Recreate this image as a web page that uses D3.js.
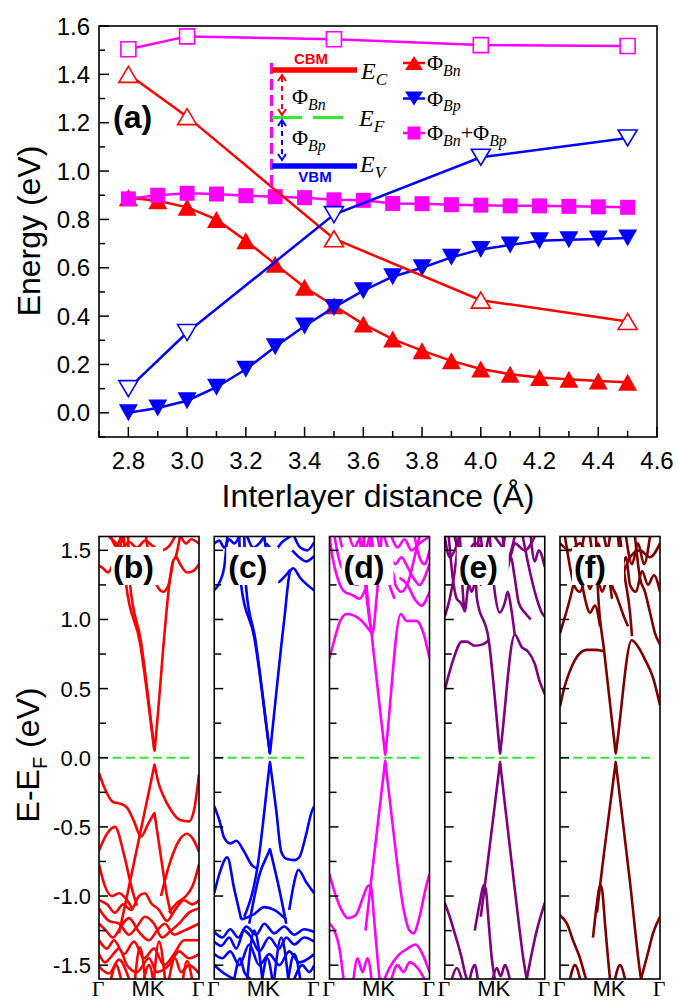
<!DOCTYPE html>
<html><head><meta charset="utf-8">
<script src="https://cdn.jsdelivr.net/npm/d3@7"></script>
<style>
body{margin:0;background:#fff;}
svg{display:block;font-family:"Liberation Sans",Arial,sans-serif;}
</style></head><body>
<svg id="fig" width="678" height="1003"></svg>
<script>
// ---------- (a) Schottky barrier heights vs interlayer distance ----------
const distFine   = [2.8,2.9,3.0,3.1,3.2,3.3,3.4,3.5,3.6,3.7,3.8,3.9,4.0,4.1,4.2,4.3,4.4,4.5];
const phiBnFine  = [0.89,0.877,0.85,0.80,0.712,0.615,0.519,0.443,0.367,0.305,0.257,0.215,0.181,0.16,0.146,0.139,0.132,0.126];
const phiBpFine  = [0.0,0.02,0.05,0.106,0.18,0.273,0.359,0.436,0.505,0.563,0.60,0.643,0.676,0.694,0.712,0.716,0.719,0.723];
const phiSumFine = [0.885,0.90,0.908,0.905,0.898,0.894,0.89,0.881,0.879,0.866,0.865,0.861,0.859,0.856,0.856,0.854,0.852,0.85];
const distCoarse   = [2.8,3.0,3.5,4.0,4.5];
const phiBnCoarse  = [1.40,1.225,0.72,0.466,0.378];
const phiBpCoarse  = [0.10,0.332,0.82,1.057,1.137];
const phiSumCoarse = [1.504,1.557,1.545,1.521,1.517];
const xTicksA = [2.8,3.0,3.2,3.4,3.6,3.8,4.0,4.2,4.4,4.6];
const yTicksA = [0,0.2,0.4,0.6,0.8,1.0,1.2,1.4,1.6];

// ---------- (b)-(f) band structures, k in [0,1] along Γ-M-K-Γ ----------
const panelIds = ["b","c","d","e","f"];
const panelColors = ["#ff0000","#0000ff","#ff00ff","#800080","#800000"];
const kLabels = ["Γ","MK","Γ"];
const yTicksBand = [-1.5,-1.25,-1,-0.75,-0.5,-0.25,0,0.25,0.5,0.75,1,1.25,1.5];

const bandsB = [
 [[0.25,1.6],[0.27,1.26],[0.41,0.83],[0.545,0.104],[0.555,0.05],[0.565,0.124],[0.74,1.42],[0.77,1.46],[0.81,1.6]],
 [[0.29,1.6],[0.31,1.26],[0.42,0.84],[0.545,0.108],[0.555,0.05]],
 [[0.47,1.6],[0.5,1.45],[0.56,1.28],[0.64,1.2],[0.69,1.24],[0.74,1.42]],
 [[0,1.39],[0.04,1.37],[0.09,1.34],[0.15,1.42],[0.2,1.5],[0.24,1.6]],
 [[0.77,1.46],[0.82,1.39],[0.88,1.34],[0.94,1.35],[1,1.4]],
 [[0.1,1.6],[0.16,1.56],[0.23,1.52],[0.3,1.56],[0.38,1.52],[0.46,1.57],[0.54,1.53],[0.62,1.5],[0.7,1.53],[0.76,1.6]],
 [[0.12,1.6],[0.17,1.53],[0.22,1.6]],
 [[0.82,1.6],[0.87,1.55],[0.92,1.58],[1,1.55]],
 [[0.2,-1.27],[0.28,-1.0],[0.545,-0.085],[0.555,-0.05],[0.565,-0.084],[0.59,-0.17],[0.64,-0.27],[0.72,-0.38],[0.81,-0.45],[0.9,-0.46],[0.95,-0.38],[1,-0.12]],
 [[0,-0.11],[0.05,-0.21],[0.14,-0.32],[0.2,-0.33],[0.28,-0.36],[0.35,-0.46],[0.42,-0.57],[0.49,-0.48],[0.545,-0.41],[0.555,-0.40],[0.565,-0.45],[0.62,-0.72],[0.68,-1.0],[0.72,-1.13]],
 [[0,-0.67],[0.08,-0.55],[0.16,-0.5],[0.25,-0.7],[0.33,-0.95],[0.38,-1.07]],
 [[0.62,-1.0],[0.7,-0.78],[0.8,-0.6],[0.88,-0.55],[0.95,-0.6],[1,-0.68]],
 [[0,-0.77],[0.06,-0.93],[0.13,-1.0],[0.2,-0.98],[0.27,-1.02],[0.34,-1.1]],
 [[0.7,-1.12],[0.78,-1.05],[0.87,-1.0],[0.94,-0.92],[1,-0.77]],
 [[0,-1.03],[0.08,-1.06],[0.16,-1.12],[0.24,-1.06],[0.32,-1.1],[0.4,-1.0],[0.46,-0.98],[0.52,-1.05],[0.6,-1.1],[0.68,-1.18],[0.76,-1.1],[0.85,-1.03],[0.93,-1.06],[1,-1.03]],
 [[0,-1.09],[0.1,-1.18],[0.2,-1.2],[0.3,-1.28],[0.38,-1.22],[0.46,-1.15],[0.55,-1.2],[0.63,-1.3],[0.72,-1.25],[0.8,-1.2],[0.9,-1.12],[1,-1.09]],
 [[0,-1.2],[0.07,-1.25],[0.14,-1.3],[0.22,-1.22],[0.3,-1.16],[0.4,-1.26],[0.5,-1.32],[0.58,-1.25],[0.66,-1.2],[0.75,-1.28],[0.85,-1.25],[1,-1.2]],
 [[0,-1.32],[0.08,-1.38],[0.15,-1.32],[0.25,-1.42],[0.35,-1.33],[0.45,-1.45],[0.55,-1.38],[0.65,-1.5],[0.75,-1.42],[0.85,-1.32],[1,-1.32]],
 [[0,-1.42],[0.06,-1.48],[0.12,-1.44],[0.2,-1.38],[0.28,-1.5],[0.38,-1.55],[0.5,-1.45],[0.58,-1.55],[0.7,-1.5],[0.8,-1.4],[0.9,-1.45],[1,-1.42]],
 [[0,-1.51],[0.1,-1.56],[0.2,-1.46],[0.3,-1.6]],
 [[0.36,-1.6],[0.41,-1.37],[0.46,-1.6]],
 [[0.55,-1.6],[0.6,-1.33],[0.66,-1.6]],
 [[0.7,-1.6],[0.76,-1.45],[0.82,-1.55],[0.9,-1.5],[1,-1.56]],
 [[0.45,-1.6],[0.5,-1.5],[0.54,-1.6]],
 [[0.12,-1.6],[0.17,-1.5],[0.22,-1.6]],
 [[0.84,-1.6],[0.88,-1.47],[0.93,-1.6]]
];

const bandsC = [
 [[0.25,1.6],[0.27,1.24],[0.4,0.87],[0.547,0.083],[0.557,0.03],[0.567,0.098],[0.7,1.0],[0.76,1.35],[0.79,1.37],[0.86,1.3],[0.93,1.25],[1,1.21]],
 [[0.3,1.6],[0.32,1.22],[0.41,0.86],[0.547,0.086],[0.557,0.03]],
 [[0,1.21],[0.06,1.28],[0.1,1.38],[0.13,1.6]],
 [[0,1.55],[0.05,1.57],[0.1,1.52],[0.15,1.58],[0.2,1.55],[0.25,1.6]],
 [[0.5,1.6],[0.53,1.45],[0.58,1.32],[0.64,1.27],[0.69,1.3],[0.76,1.36]],
 [[0.52,1.55],[0.6,1.5],[0.68,1.56],[0.76,1.6]],
 [[0.8,1.6],[0.86,1.52],[0.93,1.5],[1,1.56]],
 [[0.33,1.6],[0.39,1.52],[0.45,1.55],[0.5,1.6]],
 [[0.78,1.5],[0.85,1.45],[0.92,1.42],[1,1.46]],
 [[0.3,-1.15],[0.43,-0.8],[0.547,-0.09],[0.557,-0.03],[0.567,-0.086],[0.62,-0.38],[0.67,-0.68],[0.72,-0.73],[0.8,-0.74],[0.85,-0.72],[0.92,-0.55],[0.97,-0.4],[1,-0.35]],
 [[0,-0.35],[0.05,-0.45],[0.1,-0.58],[0.16,-0.62],[0.22,-0.6],[0.3,-0.68],[0.38,-0.78],[0.43,-0.8]],
 [[0.35,-1.2],[0.45,-0.85],[0.547,-0.678],[0.557,-0.66],[0.567,-0.69],[0.65,-0.95],[0.72,-1.2]],
 [[0,-0.98],[0.06,-0.82],[0.13,-0.72],[0.2,-0.95],[0.27,-1.17]],
 [[0.75,-1.1],[0.8,-0.9],[0.84,-0.81],[0.92,-0.9],[1,-0.98]],
 [[0.27,-1.17],[0.4,-1.13],[0.5,-1.08],[0.6,-1.1],[0.72,-1.17]],
 [[0,-1.26],[0.08,-1.3],[0.16,-1.24],[0.24,-1.3],[0.32,-1.22],[0.42,-1.28],[0.5,-1.2],[0.6,-1.27],[0.7,-1.22],[0.8,-1.28],[0.9,-1.24],[1,-1.26]],
 [[0,-1.33],[0.07,-1.36],[0.15,-1.3],[0.22,-1.38],[0.3,-1.25],[0.37,-1.3],[0.45,-1.4],[0.55,-1.3],[0.65,-1.38],[0.72,-1.3],[0.8,-1.35],[0.9,-1.3],[1,-1.33]],
 [[0,-1.42],[0.08,-1.45],[0.16,-1.4],[0.25,-1.5],[0.35,-1.35],[0.45,-1.5],[0.55,-1.42],[0.65,-1.5],[0.75,-1.4],[0.85,-1.48],[1,-1.42]],
 [[0,-1.5],[0.1,-1.56],[0.2,-1.6]],
 [[0.33,-1.6],[0.4,-1.25],[0.48,-1.6]],
 [[0.6,-1.6],[0.67,-1.3],[0.74,-1.6]],
 [[0.8,-1.6],[0.88,-1.5],[0.95,-1.55],[1,-1.5]],
 [[0.2,-1.6],[0.26,-1.45],[0.3,-1.55],[0.36,-1.6]],
 [[0.48,-1.6],[0.53,-1.45],[0.58,-1.6]],
 [[0.74,-1.6],[0.8,-1.42],[0.86,-1.6]]
];

const bandsD = [
 [[0.34,1.6],[0.37,1.25],[0.42,0.9],[0.547,0.084],[0.557,0.02],[0.567,0.085],[0.713,1.04],[0.77,0.99],[0.87,0.99],[0.94,0.9],[1,0.72]],
 [[0,0.72],[0.04,0.83],[0.107,0.99],[0.173,1.04],[0.307,1.0],[0.423,0.9]],
 [[0.3,1.6],[0.35,1.3],[0.41,0.95],[0.43,0.9],[0.47,1.15],[0.5,1.4],[0.52,1.6]],
 [[0,1.6],[0.03,1.45],[0.08,1.3],[0.15,1.2],[0.22,1.18],[0.3,1.15],[0.36,1.22]],
 [[0.1,1.6],[0.15,1.45],[0.2,1.32],[0.27,1.25],[0.33,1.3],[0.38,1.42],[0.42,1.6]],
 [[0.48,1.6],[0.52,1.45],[0.58,1.32],[0.63,1.35],[0.66,1.25],[0.72,1.2],[0.8,1.3],[0.85,1.45],[0.9,1.6]],
 [[0.7,1.3],[0.78,1.25],[0.85,1.15],[0.92,1.1],[1,1.2]],
 [[0.85,1.6],[0.9,1.45],[0.95,1.4],[1,1.5]],
 [[0.2,1.6],[0.25,1.52],[0.3,1.58],[0.35,1.5],[0.4,1.6]],
 [[0.05,1.6],[0.1,1.42],[0.16,1.33],[0.24,1.3],[0.3,1.38],[0.35,1.6]],
 [[0.55,1.6],[0.6,1.48],[0.66,1.4],[0.72,1.45],[0.78,1.38],[0.84,1.3],[0.9,1.25],[0.96,1.32],[1,1.4]],
 [[0.42,1.6],[0.46,1.45],[0.5,1.52],[0.55,1.4],[0.6,1.25],[0.65,1.15]],
 [[0.62,1.6],[0.68,1.52],[0.75,1.58],[0.82,1.5],[0.9,1.55],[1,1.6]],
 [[0.36,-1.25],[0.41,-0.93],[0.547,-0.082],[0.557,-0.02],[0.567,-0.082],[0.65,-0.6],[0.73,-1.05],[0.8,-1.25],[0.84,-1.27],[0.9,-1.15],[0.96,-0.95],[1,-0.84]],
 [[0,-0.84],[0.05,-0.97],[0.12,-1.1],[0.18,-1.16],[0.26,-1.14],[0.33,-1.02],[0.38,-0.93],[0.41,-0.92],[0.45,-1.2],[0.48,-1.45],[0.5,-1.6]],
 [[0,-1.2],[0.05,-1.25],[0.1,-1.38],[0.14,-1.6]],
 [[0.24,-1.6],[0.28,-1.45],[0.33,-1.55],[0.38,-1.45],[0.42,-1.6]],
 [[0.55,-1.6],[0.6,-1.52],[0.7,-1.42],[0.78,-1.38],[0.86,-1.35],[0.93,-1.42],[1,-1.55]],
 [[0.62,-1.6],[0.68,-1.5],[0.74,-1.55],[0.8,-1.48],[0.88,-1.52],[0.95,-1.6]]
];

const bandsE = [
 [[0.3,1.6],[0.32,1.16],[0.44,0.85],[0.543,0.103],[0.553,0.03],[0.563,0.089],[0.70,0.89],[0.77,0.8],[0.83,0.77],[0.9,0.68],[0.95,0.55],[1,0.46]],
 [[0,0.49],[0.04,0.6],[0.09,0.72],[0.17,0.84],[0.22,0.84],[0.3,0.81],[0.38,0.82],[0.44,0.85]],
 [[0,1.02],[0.05,1.15],[0.1,1.35],[0.14,1.6]],
 [[0.1,1.6],[0.17,1.3],[0.2,1.06],[0.24,1.25],[0.27,1.2],[0.3,1.28],[0.34,1.6]],
 [[0.45,1.6],[0.5,1.2],[0.55,1.05],[0.6,1.12],[0.63,1.2],[0.66,1.1],[0.7,0.89]],
 [[0.78,1.6],[0.85,1.35],[0.92,1.15],[0.97,1.05],[1,1.02]],
 [[0.1,1.6],[0.2,1.45],[0.3,1.55],[0.45,1.45],[0.55,1.35],[0.62,1.4],[0.7,1.6]],
 [[0.5,1.6],[0.6,1.5],[0.65,1.45],[0.7,1.55],[0.8,1.5],[0.9,1.6]],
 [[0,1.6],[0.05,1.45],[0.1,1.5],[0.15,1.6]],
 [[0.15,1.6],[0.19,1.35],[0.23,1.5],[0.27,1.3],[0.31,1.45],[0.36,1.25],[0.4,1.45],[0.44,1.6]],
 [[0.58,1.6],[0.62,1.35],[0.66,1.45],[0.7,1.3],[0.74,1.12],[0.8,1.05],[0.86,1.0]],
 [[0.86,1.6],[0.9,1.42],[0.94,1.5],[1,1.38]],
 [[0.04,1.6],[0.08,1.3],[0.12,1.15],[0.16,1.12],[0.2,1.06]],
 [[0.36,1.6],[0.4,1.38],[0.44,1.3],[0.48,1.4],[0.52,1.28],[0.56,1.38],[0.6,1.6]],
 [[0.36,-1.15],[0.4,-0.93],[0.543,-0.089],[0.553,-0.03],[0.563,-0.093],[0.7,-0.95],[0.8,-1.52],[0.82,-1.6]],
 [[0,-1.05],[0.05,-1.15],[0.1,-1.27],[0.17,-1.45],[0.2,-1.55],[0.22,-1.6]],
 [[0.3,-1.25],[0.35,-1.05],[0.39,-0.92],[0.41,-0.95],[0.44,-1.2],[0.47,-1.45],[0.5,-1.6]],
 [[0.82,-1.6],[0.86,-1.45],[0.92,-1.25],[0.97,-1.12],[1,-1.05]],
 [[0.07,-1.6],[0.12,-1.52],[0.17,-1.6]],
 [[0.25,-1.6],[0.3,-1.5],[0.33,-1.6]],
 [[0.48,-1.6],[0.52,-1.52],[0.56,-1.58],[0.6,-1.5],[0.65,-1.6]]
];

const bandsF = [
 [[0.36,1.6],[0.38,1.2],[0.44,0.78],[0.547,0.094],[0.557,0.03],[0.567,0.081],[0.717,0.85],[0.8,0.78],[0.85,0.71],[0.93,0.58],[1,0.38]],
 [[0,0.37],[0.04,0.5],[0.08,0.59],[0.17,0.73],[0.27,0.78],[0.35,0.78],[0.44,0.77]],
 [[0,0.9],[0.05,1.02],[0.1,1.15],[0.15,1.3],[0.2,1.45],[0.24,1.6]],
 [[0.15,1.6],[0.2,1.35],[0.25,1.15],[0.3,1.05],[0.35,1.1],[0.4,0.95]],
 [[0.6,1.6],[0.65,1.3],[0.7,1.05],[0.72,0.88]],
 [[0.75,1.6],[0.8,1.3],[0.85,1.2],[0.9,1.05],[0.95,0.9],[1,0.82]],
 [[0,1.55],[0.1,1.5],[0.2,1.55],[0.3,1.45],[0.4,1.5],[0.5,1.35],[0.55,1.4],[0.6,1.3],[0.7,1.45],[0.8,1.5],[0.9,1.45],[1,1.55]],
 [[0.05,1.6],[0.1,1.38],[0.14,1.25],[0.2,1.2],[0.26,1.3],[0.3,1.22],[0.36,1.35],[0.42,1.2],[0.48,1.3],[0.52,1.15]],
 [[0.58,1.6],[0.62,1.4],[0.66,1.45],[0.7,1.25],[0.76,1.2],[0.82,1.35],[0.88,1.25],[0.94,1.32],[1,1.2]],
 [[0.3,1.6],[0.34,1.45],[0.38,1.55],[0.44,1.42],[0.5,1.6]],
 [[0.44,1.6],[0.48,1.45],[0.52,1.25],[0.56,1.18],[0.6,1.1],[0.64,1.02],[0.68,0.95]],
 [[0.66,1.6],[0.72,1.4],[0.78,1.55],[0.84,1.4],[0.9,1.6]],
 [[0.37,-1.12],[0.4,-0.93],[0.547,-0.087],[0.557,-0.03],[0.567,-0.091],[0.7,-0.9],[0.8,-1.55],[0.81,-1.6]],
 [[0,-1.14],[0.07,-1.2],[0.13,-1.32],[0.2,-1.45],[0.24,-1.55],[0.26,-1.6]],
 [[0.33,-1.3],[0.37,-1.05],[0.4,-0.92],[0.42,-0.95],[0.45,-1.2],[0.48,-1.45],[0.5,-1.6]],
 [[0.81,-1.6],[0.88,-1.41],[0.93,-1.27],[1,-1.15]],
 [[0.1,-1.6],[0.15,-1.5],[0.2,-1.6]],
 [[0.55,-1.6],[0.6,-1.5],[0.65,-1.6]]
];

const bandSets = [bandsB, bandsC, bandsD, bandsE, bandsF];

// ================= drawing =================
const svg = d3.select("#fig");
const serif = '"Liberation Serif","DejaVu Serif",serif';

// ---------- panel (a) ----------
const ax = {l:99, r:657, t:26, b:437};
const x = d3.scaleLinear().domain([2.7,4.6]).range([ax.l, ax.r]);
const y = d3.scaleLinear().domain([-0.1,1.6]).range([ax.b, ax.t]);
const gA = svg.append("g");

// inward ticks
const xMinor = d3.range(2.7, 4.61, 0.1).map(v => +v.toFixed(1)).filter(v => !xTicksA.includes(v));
const yMinor = d3.range(-0.1, 1.61, 0.1).map(v => +v.toFixed(1)).filter(v => !yTicksA.includes(v));
gA.append("g").selectAll("line").data(xTicksA).join("line")
  .attr("x1", d => x(d)).attr("x2", d => x(d)).attr("y1", ax.b).attr("y2", ax.b - 10)
  .attr("stroke", "#000").attr("stroke-width", 1.5);
gA.append("g").selectAll("line").data(xMinor).join("line")
  .attr("x1", d => x(d)).attr("x2", d => x(d)).attr("y1", ax.b).attr("y2", ax.b - 6)
  .attr("stroke", "#000").attr("stroke-width", 1.5);
gA.append("g").selectAll("line").data(yTicksA).join("line")
  .attr("x1", ax.l).attr("x2", ax.l + 10).attr("y1", d => y(d)).attr("y2", d => y(d))
  .attr("stroke", "#000").attr("stroke-width", 1.5);
gA.append("g").selectAll("line").data(yMinor).join("line")
  .attr("x1", ax.l).attr("x2", ax.l + 6).attr("y1", d => y(d)).attr("y2", d => y(d))
  .attr("stroke", "#000").attr("stroke-width", 1.5);

gA.append("g").selectAll("text").data(xTicksA).join("text")
  .attr("x", d => x(d)).attr("y", 469).attr("text-anchor", "middle")
  .attr("font-size", 24).text(d => d.toFixed(1));
gA.append("g").selectAll("text").data(yTicksA).join("text")
  .attr("x", 90).attr("y", d => y(d)).attr("dy", "0.36em").attr("text-anchor", "end")
  .attr("font-size", 24).text(d => d.toFixed(1));

gA.append("text").attr("x", 378).attr("y", 507).attr("text-anchor", "middle")
  .attr("font-size", 32).text("Interlayer distance (Å)");
gA.append("text").attr("transform", "translate(40,231) rotate(-90)").attr("text-anchor", "middle")
  .attr("font-size", 32).text("Energy (eV)");

// marker shapes
const triUp = (w, h) => `M0,${-h/2}L${w/2},${h/2}L${-w/2},${h/2}Z`;
const triDown = (w, h) => `M0,${h/2}L${w/2},${-h/2}L${-w/2},${-h/2}Z`;
const square = s => `M${-s/2},${-s/2}h${s}v${s}h${-s}Z`;

const line = d3.line().x(d => x(d[0])).y(d => y(d[1]));
function series(xs, ys, color, shape, filled) {
  const pts = xs.map((v, i) => [v, ys[i]]);
  const g = gA.append("g");
  g.append("path").attr("d", line(pts)).attr("fill", "none").attr("stroke", color).attr("stroke-width", 2.5);
  g.selectAll("path.m").data(pts).join("path").attr("class", "m")
    .attr("transform", d => `translate(${x(d[0])},${y(d[1])})`)
    .attr("d", shape)
    .attr("fill", filled ? color : "#fff")
    .attr("stroke", color).attr("stroke-width", filled ? 0 : 1.6);
}
series(distFine, phiBnFine, "#ff0000", triUp(19, 17), true);
series(distFine, phiBpFine, "#0000ff", triDown(19, 17), true);
series(distFine, phiSumFine, "#ff00ff", square(15), true);
series(distCoarse, phiBnCoarse, "#ff0000", triUp(19, 16), false);
series(distCoarse, phiBpCoarse, "#0000ff", triDown(19, 16), false);
series(distCoarse, phiSumCoarse, "#ff00ff", square(15), false);

gA.append("rect").attr("x", ax.l).attr("y", ax.t).attr("width", ax.r - ax.l).attr("height", ax.b - ax.t)
  .attr("fill", "none").attr("stroke", "#000").attr("stroke-width", 1.6);

gA.append("text").attr("x", 113).attr("y", 128).attr("font-size", 32).attr("font-weight", "bold").text("(a)");

// energy-level sketch
const sk = gA.append("g");
sk.append("line").attr("x1", 271.5).attr("x2", 271.5).attr("y1", 63).attr("y2", 192)
  .attr("stroke", "#ff00ff").attr("stroke-width", 3).attr("stroke-dasharray", "11,5");
sk.append("line").attr("x1", 272).attr("x2", 357).attr("y1", 70).attr("y2", 70)
  .attr("stroke", "#ff0000").attr("stroke-width", 5.5);
sk.append("line").attr("x1", 272).attr("x2", 357).attr("y1", 166).attr("y2", 166)
  .attr("stroke", "#0000ff").attr("stroke-width", 5.5);
sk.append("line").attr("x1", 272).attr("x2", 345).attr("y1", 117.5).attr("y2", 117.5)
  .attr("stroke", "#33e633").attr("stroke-width", 3).attr("stroke-dasharray", "30,11");
sk.append("text").attr("x", 311).attr("y", 64).attr("text-anchor", "middle").attr("font-size", 15)
  .attr("font-weight", "bold").attr("fill", "#ff0000").text("CBM");
sk.append("text").attr("x", 315).attr("y", 182).attr("text-anchor", "middle").attr("font-size", 15)
  .attr("font-weight", "bold").attr("fill", "#0000ff").text("VBM");
function arrow(x0, yTop, yBot, color) {
  sk.append("line").attr("x1", x0).attr("x2", x0).attr("y1", yTop + 2).attr("y2", yBot - 2)
    .attr("stroke", color).attr("stroke-width", 2).attr("stroke-dasharray", "5,4");
  sk.append("path").attr("d", `M${x0-4},${yTop+6}L${x0},${yTop}L${x0+4},${yTop+6}`)
    .attr("fill", "none").attr("stroke", color).attr("stroke-width", 2);
  sk.append("path").attr("d", `M${x0-4},${yBot-6}L${x0},${yBot}L${x0+4},${yBot-6}`)
    .attr("fill", "none").attr("stroke", color).attr("stroke-width", 2);
}
arrow(282, 75, 115, "#ff0000");
arrow(282, 120, 160, "#0000ff");

function phiLabel(g, x0, y0, parts, size) {
  const t = g.append("text").attr("x", x0).attr("y", y0).attr("font-family", serif).attr("font-size", size);
  parts.forEach(p => {
    const s = t.append("tspan").text(p.t);
    if (p.sub) s.attr("font-style", "italic").attr("font-size", size * 0.72).attr("dy", size * 0.25);
    if (p.up) s.attr("dy", -size * 0.25);
  });
}
phiLabel(sk, 292, 104, [{t:"Φ"},{t:"Bn", sub:true}], 22);
phiLabel(sk, 292, 145, [{t:"Φ"},{t:"Bp", sub:true}], 22);
phiLabel(sk, 361, 79, [{t:"E"},{t:"C", sub:true}], 24);
phiLabel(sk, 359, 126, [{t:"E"},{t:"F", sub:true}], 24);
phiLabel(sk, 360, 172, [{t:"E"},{t:"V", sub:true}], 24);
sk.selectAll("text").filter(function(){ return /^E/.test(this.textContent); }).attr("font-style", "italic");

// legend
const legendRows = [
  {shape: triUp(18, 14), color: "#ff0000", parts: [{t:"Φ"},{t:"Bn", sub:true}]},
  {shape: triDown(18, 14), color: "#0000ff", parts: [{t:"Φ"},{t:"Bp", sub:true}]},
  {shape: square(13), color: "#ff00ff", parts: [{t:"Φ"},{t:"Bn", sub:true},{t:"+Φ", up:true},{t:"Bp", sub:true}]}
];
const legendY = [63, 98.5, 133];
legendRows.forEach((r, i) => {
  const yy = legendY[i];
  gA.append("line").attr("x1", 403).attr("x2", 425).attr("y1", yy).attr("y2", yy)
    .attr("stroke", r.color).attr("stroke-width", 2.5);
  gA.append("path").attr("transform", `translate(414,${yy})`).attr("d", r.shape).attr("fill", r.color);
  phiLabel(gA, 427, yy + 7, r.parts, 22);
});

// ---------- panels (b)-(f) ----------
const px = d3.scaleBand().domain(panelIds).range([99, 660]).paddingInner(0.1323).paddingOuter(0);
const ey = d3.scaleLinear().domain([-1.6, 1.6]).range([979, 536.5]);
const bw = px.bandwidth();

panelIds.forEach((id, i) => {
  const x0 = px(id);
  const kx = d3.scaleLinear().domain([0, 1]).range([x0, x0 + bw]);
  const g = svg.append("g");
  g.append("clipPath").attr("id", "clip-" + id).append("rect")
    .attr("x", x0).attr("y", ey(1.6)).attr("width", bw).attr("height", ey(-1.6) - ey(1.6));
  const bl = d3.line().x(d => kx(d[0])).y(d => ey(d[1])).curve(d3.curveMonotoneX);
  const gb = g.append("g").attr("clip-path", `url(#clip-${id})`);
  gb.selectAll("path").data(bandSets[i]).join("path")
    .attr("d", bl).attr("fill", "none").attr("stroke", panelColors[i])
    .attr("stroke-width", 2.6).attr("stroke-linejoin", "round");
  // Fermi level
  g.append("line").attr("x1", x0).attr("x2", x0 + bw - 8).attr("y1", ey(0)).attr("y2", ey(0))
    .attr("stroke", "#33e633").attr("stroke-width", 2.2).attr("stroke-dasharray", "9,4.5");
  // ticks on left edge
  g.append("g").selectAll("line").data(yTicksBand).join("line")
    .attr("x1", x0).attr("x2", d => x0 + (Math.abs(d * 2 - Math.round(d * 2)) < 1e-6 ? 9 : 7))
    .attr("y1", d => ey(d)).attr("y2", d => ey(d)).attr("stroke", "#000").attr("stroke-width", 1.5);
  // panel label on white box
  g.append("rect").attr("x", x0 + 12).attr("y", 547).attr("width", 52).attr("height", 38).attr("fill", "#fff");
  g.append("text").attr("x", x0 + 14).attr("y", 578).attr("font-size", 32).attr("font-weight", "bold")
    .text(`(${id})`);
  g.append("rect").attr("x", x0).attr("y", ey(1.6)).attr("width", bw).attr("height", ey(-1.6) - ey(1.6))
    .attr("fill", "none").attr("stroke", "#000").attr("stroke-width", 1.6);
  // k-point labels
  g.append("text").attr("x", x0 - 1).attr("y", 996).attr("text-anchor", "middle")
    .attr("font-family", serif).attr("font-size", 22).text(kLabels[0]);
  g.append("text").attr("x", x0 + bw * 0.49).attr("y", 996).attr("text-anchor", "middle")
    .attr("font-size", 22).text(kLabels[1]);
  g.append("text").attr("x", x0 + bw - 1).attr("y", 996).attr("text-anchor", "middle")
    .attr("font-family", serif).attr("font-size", 22).text(kLabels[2]);
});

svg.append("g").selectAll("text").data(yTicksBand.filter(d => Math.abs(d * 2 - Math.round(d * 2)) < 1e-6)).join("text")
  .attr("x", 91).attr("y", d => ey(d)).attr("dy", "0.36em").attr("text-anchor", "end")
  .attr("font-size", 22).text(d => d.toFixed(1));

const yl = svg.append("text").attr("transform", "translate(39,755) rotate(-90)").attr("text-anchor", "middle")
  .attr("font-size", 32);
yl.append("tspan").text("E-E");
yl.append("tspan").attr("font-size", 20).attr("dy", 8).text("F");
yl.append("tspan").attr("dy", -8).text(" (eV)");
</script>
</body></html>
